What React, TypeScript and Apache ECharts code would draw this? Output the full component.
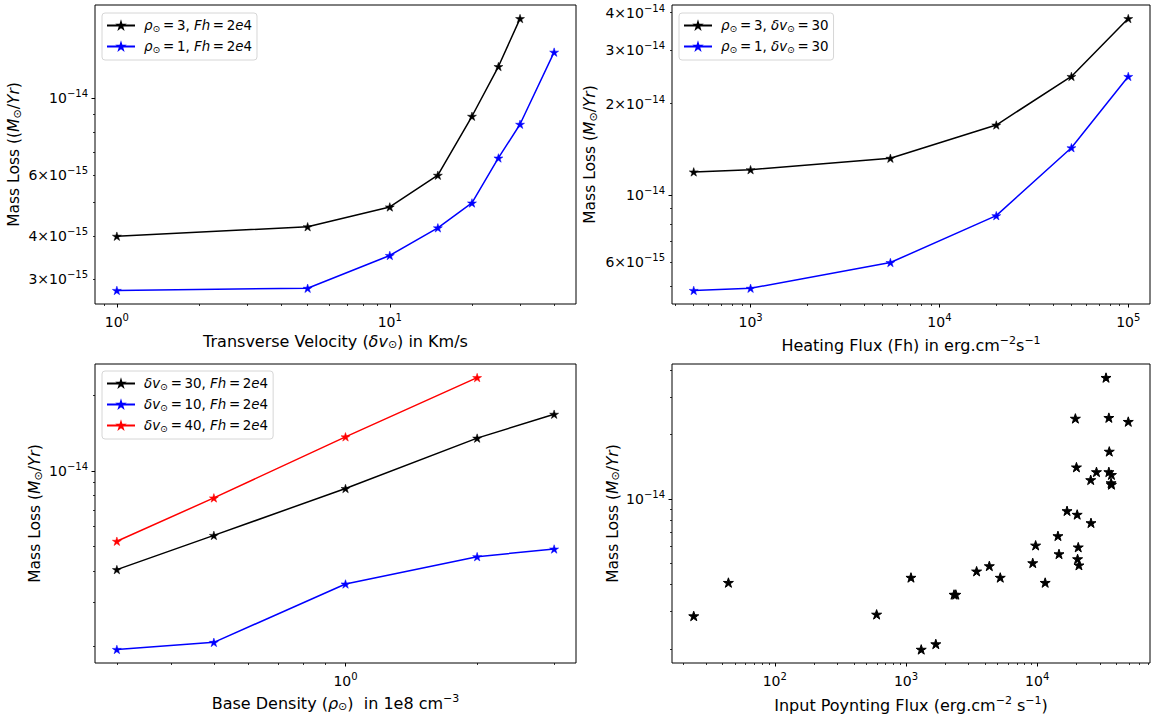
import React, { useEffect, useRef } from "react";
import * as echarts from "echarts";

// ---- Panel (a): mass loss vs transverse velocity ----
const velocity = [1, 5, 10, 15, 20, 25, 30, 40];
const velRho3 = [4.0e-15, 4.26e-15, 4.86e-15, 6.0e-15, 8.88e-15, 1.236e-14, 1.7e-14];
const velRho1 = [2.79e-15, 2.83e-15, 3.52e-15, 4.23e-15, 4.99e-15, 6.73e-15, 8.42e-15, 1.36e-14];

// ---- Panel (b): mass loss vs heating flux ----
const heatingFlux = [500, 1000, 5500, 20000, 50000, 100000];
const fluxRho3 = [1.19e-14, 1.21e-14, 1.32e-14, 1.7e-14, 2.46e-14, 3.82e-14];
const fluxRho1 = [4.83e-15, 4.91e-15, 5.97e-15, 8.53e-15, 1.43e-14, 2.46e-14];

// ---- Panel (c): mass loss vs base density ----
const density = [0.3, 0.5, 1, 2, 3];
const densDv30 = [4.05e-15, 5.54e-15, 8.51e-15, 1.35e-14, 1.68e-14];
const densDv10 = [1.95e-15, 2.08e-15, 3.55e-15, 4.56e-15, 4.89e-15];
const densDv40 = [5.25e-15, 7.81e-15, 1.366e-14, 2.35e-14];

// ---- Panel (d): mass loss vs input Poynting flux ----
const poyntingFlux = [
  24.1, 44.3, 597, 1091, 1306, 1687, 2323, 2397, 3452, 4316, 5228, 9245, 9727, 11500,
  14390, 14660, 16880, 19540, 19910, 20170, 20550, 20310, 20800, 25570, 25700, 28300,
  33450, 35170, 35420, 35170, 36800, 36560, 36800, 49440,
];
const poyntingMassLoss = [
  2.85e-15, 4.08e-15, 2.9e-15, 4.31e-15, 1.99e-15, 2.11e-15, 3.59e-15, 3.59e-15, 4.61e-15,
  4.88e-15, 4.31e-15, 5.04e-15, 6.09e-15, 4.08e-15, 6.74e-15, 5.55e-15, 8.82e-15, 2.38e-14,
  1.41e-14, 8.48e-15, 5.97e-15, 5.26e-15, 4.92e-15, 1.23e-14, 7.75e-15, 1.34e-14, 3.69e-14,
  2.4e-14, 1.67e-14, 1.34e-14, 1.3e-14, 1.19e-14, 1.17e-14, 2.3e-14,
];

// ---- Tick labels ----
const velXLabels = [1, 10];
const velYLabels = [3e-15, 4e-15, 6e-15, 1e-14];
const fluxXLabels = [1e3, 1e4, 1e5];
const fluxYLabels = [6e-15, 1e-14, 2e-14, 3e-14, 4e-14];
const densXLabels = [1];
const densYLabels = [1e-14];
const poyntXLabels = [1e2, 1e3, 1e4];
const poyntYLabels = [1e-14];

// ---- Series names ----
const velNames = ["ρ⊙ = 3, Fh = 2e4", "ρ⊙ = 1, Fh = 2e4"];
const fluxNames = ["ρ⊙ = 3, δv⊙ = 30", "ρ⊙ = 1, δv⊙ = 30"];
const densNames = ["δv⊙ = 30, Fh = 2e4", "δv⊙ = 10, Fh = 2e4", "δv⊙ = 40, Fh = 2e4"];

const FONT = "'DejaVu Sans', sans-serif";

// tick-label text styles
const rich: any = {
  b: { fontSize: 14, fontFamily: FONT, color: "#000" },
  s: { fontSize: 10, fontFamily: FONT, color: "#000", padding: [0, 0, 9, 0] },
};

// legend text styles
const LFS = 13.4;
const legendStyles: any = {
  b: { fontSize: LFS, fontFamily: FONT, color: "#000" },
  i: { fontSize: LFS, fontFamily: FONT, fontStyle: "italic", color: "#000" },
  ip: { fontSize: LFS, fontFamily: FONT, fontStyle: "italic", color: "#000", padding: [0, 0, 0, 4] },
  o: { fontSize: 9.4, fontFamily: FONT, color: "#000", padding: [6, 0, 0, 0] },
};

// axis-title text styles
function titleRich(fs: number) {
  const sub = Math.round(fs * 0.7);
  return {
    b: { fontSize: fs, fontFamily: FONT, color: "#000" },
    i: { fontSize: fs, fontFamily: FONT, fontStyle: "italic", color: "#000" },
    s: { fontSize: sub, fontFamily: FONT, color: "#000", padding: [0, 0, 9, 0] },
    o: { fontSize: sub, fontFamily: FONT, color: "#000", padding: [6, 0, 0, 0] },
  };
}

// rich-text legend entries (mathtext-like, thin spaces around "=")
const T = "\u2009";
const legendRich: Record<string, string> = {
  [velNames[0]]: `{ip|ρ}{o|⊙}{b|${T}=${T}3, }{i|Fh}{b|${T}=${T}2}{i|e}{b|4}`,
  [velNames[1]]: `{ip|ρ}{o|⊙}{b|${T}=${T}1, }{i|Fh}{b|${T}=${T}2}{i|e}{b|4}`,
  [fluxNames[0]]: `{ip|ρ}{o|⊙}{b|${T}=${T}3, }{i|δv}{o|⊙}{b|${T}=${T}30}`,
  [fluxNames[1]]: `{ip|ρ}{o|⊙}{b|${T}=${T}1, }{i|δv}{o|⊙}{b|${T}=${T}30}`,
  [densNames[0]]: `{ip|δv}{o|⊙}{b|${T}=${T}30, }{i|Fh}{b|${T}=${T}2}{i|e}{b|4}`,
  [densNames[1]]: `{ip|δv}{o|⊙}{b|${T}=${T}10, }{i|Fh}{b|${T}=${T}2}{i|e}{b|4}`,
  [densNames[2]]: `{ip|δv}{o|⊙}{b|${T}=${T}40, }{i|Fh}{b|${T}=${T}2}{i|e}{b|4}`,
};

const STAR =
  "path://M0,-1L0.2245,-0.309L0.951,-0.309L0.363,0.118L0.588,0.809L0,0.382L-0.588,0.809L-0.363,0.118L-0.951,-0.309L-0.2245,-0.309Z";

// matplotlib-style 5% margin in log space
function logRange(values: number[]) {
  const lo = Math.log10(Math.min(...values));
  const hi = Math.log10(Math.max(...values));
  const pad = (hi - lo) * 0.05;
  return { min: Math.pow(10, lo - pad), max: Math.pow(10, hi + pad) };
}

// all 1..9 x 10^n ticks inside a range
function logTicks(min: number, max: number) {
  const out: { v: number; major: boolean }[] = [];
  for (let e = Math.floor(Math.log10(min)) - 1; e <= Math.ceil(Math.log10(max)) + 1; e++) {
    for (let m = 1; m <= 9; m++) {
      const v = Number((m * Math.pow(10, e)).toPrecision(6));
      if (v >= min && v <= max) out.push({ v, major: m === 1 });
    }
  }
  return out;
}

function expText(e: number) {
  return String(e).replace("-", "\u2212");
}

function sciLabel(v: number) {
  const e = Math.floor(Math.log10(v) + 1e-9);
  const m = Math.round(v / Math.pow(10, e));
  return m === 1 ? `{b|10}{s|${expText(e)}}` : `{b|${m}×10}{s|${expText(e)}}`;
}

function axisPair(
  dim: "x" | "y",
  gridIndex: number,
  range: { min: number; max: number },
  labels: number[],
  name: string,
  nameGap: number
) {
  const ticks = logTicks(range.min, range.max);
  const major = ticks.filter((t) => t.major).map((t) => t.v);
  const minor = ticks.filter((t) => !t.major).map((t) => t.v);
  const common = {
    type: "log",
    logBase: 10,
    gridIndex,
    min: range.min,
    max: range.max,
    position: dim === "x" ? "bottom" : "left",
    splitLine: { show: false },
    axisLine: { show: false },
  };
  const main = {
    ...common,
    name,
    nameLocation: "middle",
    nameGap,
    nameRotate: dim === "y" ? 90 : 0,
    nameTextStyle: { rich: titleRich(dim === "x" ? 16 : 15.5) },
    axisTick: { show: true, customValues: major, length: 3.5, lineStyle: { color: "#000", width: 1 } },
    axisLabel: {
      show: true,
      customValues: labels,
      margin: dim === "x" ? 8 : 7,
      formatter: (v: number) => sciLabel(v),
      rich,
    },
  };
  const sub = {
    ...common,
    axisTick: { show: true, customValues: minor, length: 2, lineStyle: { color: "#000", width: 0.8 } },
    axisLabel: { show: false },
  };
  return [main, sub];
}

function lineSeries(name: string, xs: number[], ys: number[], color: string, gi: number) {
  return {
    name,
    type: "line",
    xAxisIndex: gi * 2,
    yAxisIndex: gi * 2,
    data: ys.map((y, k) => [xs[k], y]),
    symbol: STAR,
    symbolSize: 9,
    symbolKeepAspect: true,
    showSymbol: true,
    lineStyle: { color, width: 1.5 },
    itemStyle: { color, borderColor: color, borderWidth: 0.5 },
    emphasis: { disabled: true },
  };
}

function legendAt(names: string[], left: number, top: number) {
  return {
    data: names,
    orient: "vertical",
    left,
    top,
    itemWidth: 28,
    itemHeight: 7,
    itemGap: 7,
    padding: [6, 5, 6, 4],
    backgroundColor: "#fff",
    borderColor: "#d6d6d6",
    borderWidth: 1,
    borderRadius: 3,
    selectedMode: false,
    formatter: (n: string) => legendRich[n] || n,
    textStyle: { rich: legendStyles },
  };
}

const App: React.FC = () => {
  const ref = useRef<HTMLDivElement>(null);

  useEffect(() => {
    if (!ref.current) return;
    const chart = echarts.init(ref.current, undefined, { renderer: "svg" });

    const velX = logRange(velocity);
    const velY = logRange([...velRho3, ...velRho1]);
    const fluxX = logRange(heatingFlux);
    const fluxY = logRange([...fluxRho3, ...fluxRho1]);
    const densX = logRange(density);
    const densY = logRange([...densDv30, ...densDv10, ...densDv40]);
    const poyX = logRange(poyntingFlux);
    const poyY = logRange(poyntingMassLoss);

    const massTL = "{b|Mass Loss ((}{i|M}{o|⊙}{b|/}{i|Yr}{b|)}";
    const mass = "{b|Mass Loss (}{i|M}{o|⊙}{b|/}{i|Yr}{b|)}";

    const gridBase = { show: true, borderColor: "#000", borderWidth: 1, backgroundColor: "#fff", containLabel: false };

    const option: any = {
      animation: false,
      backgroundColor: "#fff",
      grid: [
        { ...gridBase, left: 95, top: 5, width: 481, height: 299 },
        { ...gridBase, left: 672, top: 5, width: 478, height: 299 },
        { ...gridBase, left: 95, top: 364, width: 481, height: 299 },
        { ...gridBase, left: 672, top: 364, width: 478, height: 299 },
      ],
      xAxis: [
        ...axisPair("x", 0, velX, velXLabels, "{b|Transverse Velocity (}{i|δv}{o|⊙}{b|) in Km/s}", 28.5),
        ...axisPair("x", 1, fluxX, fluxXLabels, "{b|Heating Flux (Fh) in erg.cm}{s|−2}{b|s}{s|−1}", 31),
        ...axisPair("x", 2, densX, densXLabels, "{b|Base Density (}{i|ρ}{o|⊙}{b|)\u00a0\u00a0in 1e8 cm}{s|−3}", 30),
        ...axisPair("x", 3, poyX, poyntXLabels, "{b|Input Poynting Flux (erg.cm}{s|−2}{b| s}{s|−1}{b|)}", 32),
      ],
      yAxis: [
        ...axisPair("y", 0, velY, velYLabels, massTL, 72.5),
        ...axisPair("y", 1, fluxY, fluxYLabels, mass, 73.5),
        ...axisPair("y", 2, densY, densYLabels, mass, 51.5),
        ...axisPair("y", 3, poyY, poyntYLabels, mass, 51),
      ],
      legend: [
        legendAt(velNames, 102, 13),
        legendAt(fluxNames, 679, 13),
        legendAt(densNames, 102, 371),
      ],
      series: [
        lineSeries(velNames[0], velocity, velRho3, "#000000", 0),
        lineSeries(velNames[1], velocity, velRho1, "#0000ff", 0),
        lineSeries(fluxNames[0], heatingFlux, fluxRho3, "#000000", 1),
        lineSeries(fluxNames[1], heatingFlux, fluxRho1, "#0000ff", 1),
        lineSeries(densNames[0], density, densDv30, "#000000", 2),
        lineSeries(densNames[1], density, densDv10, "#0000ff", 2),
        lineSeries(densNames[2], density, densDv40, "#ff0000", 2),
        {
          type: "scatter",
          xAxisIndex: 6,
          yAxisIndex: 6,
          data: poyntingMassLoss.map((y, k) => [poyntingFlux[k], y]),
          symbol: STAR,
          symbolSize: 10,
          symbolKeepAspect: true,
          itemStyle: { color: "#000", borderColor: "#000", borderWidth: 1, opacity: 1 },
          emphasis: { disabled: true },
        },
      ],
    };

    chart.setOption(option);
    return () => chart.dispose();
  }, []);

  return (
    <div
      ref={ref}
      style={{ position: "fixed", left: 0, top: 0, width: 1151, height: 717, background: "#fff" }}
    />
  );
};

export default App;
